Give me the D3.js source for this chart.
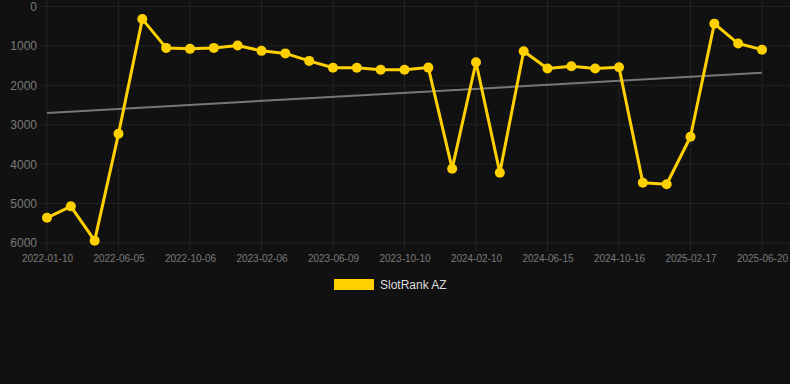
<!DOCTYPE html>
<html>
<head>
<meta charset="utf-8">
<script src="https://cdn.jsdelivr.net/npm/d3@7"></script>
<style>
  html, body { margin: 0; padding: 0; background: #111111; }
  #chart { width: 790px; height: 384px; }
  text { font-family: "Liberation Sans", Arial, sans-serif; }
</style>
</head>
<body>
<div id="chart"></div>
<script>
// dates for every point (only every third one gets a label)
const dates = [
  "2022-01-10", "2022-02-28", "2022-04-18", "2022-06-05", "2022-07-16", "2022-08-26",
  "2022-10-06", "2022-11-16", "2022-12-27", "2023-02-06", "2023-03-19", "2023-04-29",
  "2023-06-09", "2023-07-20", "2023-08-30", "2023-10-10", "2023-11-20", "2023-12-31",
  "2024-02-10", "2024-03-22", "2024-05-04", "2024-06-15", "2024-07-26", "2024-09-05",
  "2024-10-16", "2024-11-26", "2025-01-07", "2025-02-17", "2025-03-30", "2025-05-10",
  "2025-06-20"
]

// rank values (lower is better, axis is reversed)
const ranks = [
  5360, 5070, 5940, 3230, 320, 1050,
  1075, 1050, 990, 1125, 1190, 1380,
  1555, 1555, 1605, 1605, 1550, 4115,
  1415, 4215, 1135, 1575, 1515, 1575,
  1540, 4470, 4510, 3305, 435, 940,
  1095
]

// trend line, start and end value
const trend = [2700, 1680]

const yTicks = [0, 1000, 2000, 3000, 4000, 5000, 6000]
const seriesName = "SlotRank AZ"

const lineColor = "#ffd000"

const margin = { top: 6.5, right: 28, bottom: 141, left: 47 }
const W = 790, H = 384
const innerW = W - margin.left - margin.right
const innerH = H - margin.top - margin.bottom

const svg = d3.select("#chart").append("svg")
  .attr("width", W)
  .attr("height", H)

svg.append("rect").attr("width", W).attr("height", H).attr("fill", "#111111")

const g = svg.append("g")
  .attr("transform", "translate(" + margin.left + "," + margin.top + ")")

const x = d3.scalePoint()
  .domain(dates)
  .range([0, innerW])

const y = d3.scaleLinear()
  .domain([0, 6000])
  .range([0, innerH])

const shownDates = dates.filter((d, i) => i % 3 === 0)

// vertical grid
g.append("g")
  .selectAll("line")
  .data(shownDates)
  .join("line")
  .attr("x1", d => x(d))
  .attr("x2", d => x(d))
  .attr("y1", -margin.top)
  .attr("y2", innerH + 8)
  .attr("stroke", "#222222")
  .attr("stroke-width", 1)

// horizontal grid
g.append("g")
  .selectAll("line")
  .data(yTicks)
  .join("line")
  .attr("x1", -6)
  .attr("x2", W - margin.left)
  .attr("y1", d => y(d))
  .attr("y2", d => y(d))
  .attr("stroke", "#222222")
  .attr("stroke-width", 1)

// y axis labels
const yAxis = g.append("g")
  .call(d3.axisLeft(y).tickValues(yTicks).tickSize(0).tickPadding(10).tickFormat(d3.format("d")))
yAxis.select(".domain").remove()
yAxis.selectAll("text")
  .attr("fill", "#7a7a7a")
  .attr("font-size", 12)

// x axis labels
const xAxis = g.append("g")
  .attr("transform", "translate(0," + innerH + ")")
  .call(d3.axisBottom(x).tickValues(shownDates).tickSize(0).tickPadding(12))
xAxis.select(".domain").remove()
xAxis.selectAll("text")
  .attr("fill", "#7a7a7a")
  .attr("font-size", 10)

// trend line
g.append("line")
  .attr("x1", x(dates[0]))
  .attr("x2", x(dates[dates.length - 1]))
  .attr("y1", y(trend[0]))
  .attr("y2", y(trend[1]))
  .attr("stroke", "#777777")
  .attr("stroke-width", 2)

// series line
const line = d3.line()
  .x((d, i) => x(dates[i]))
  .y(d => y(d))

g.append("path")
  .datum(ranks)
  .attr("d", line)
  .attr("fill", "none")
  .attr("stroke", lineColor)
  .attr("stroke-width", 3)
  .attr("stroke-linejoin", "round")

g.append("g")
  .selectAll("circle")
  .data(ranks)
  .join("circle")
  .attr("cx", (d, i) => x(dates[i]))
  .attr("cy", d => y(d))
  .attr("r", 5)
  .attr("fill", lineColor)

// legend
const legend = svg.append("g")
  .attr("transform", "translate(334,279)")

legend.append("rect")
  .attr("width", 40)
  .attr("height", 11)
  .attr("fill", lineColor)

legend.append("text")
  .attr("x", 46)
  .attr("y", 10)
  .attr("fill", "#dddddd")
  .attr("font-size", 12)
  .text(seriesName)
</script>
</body>
</html>
